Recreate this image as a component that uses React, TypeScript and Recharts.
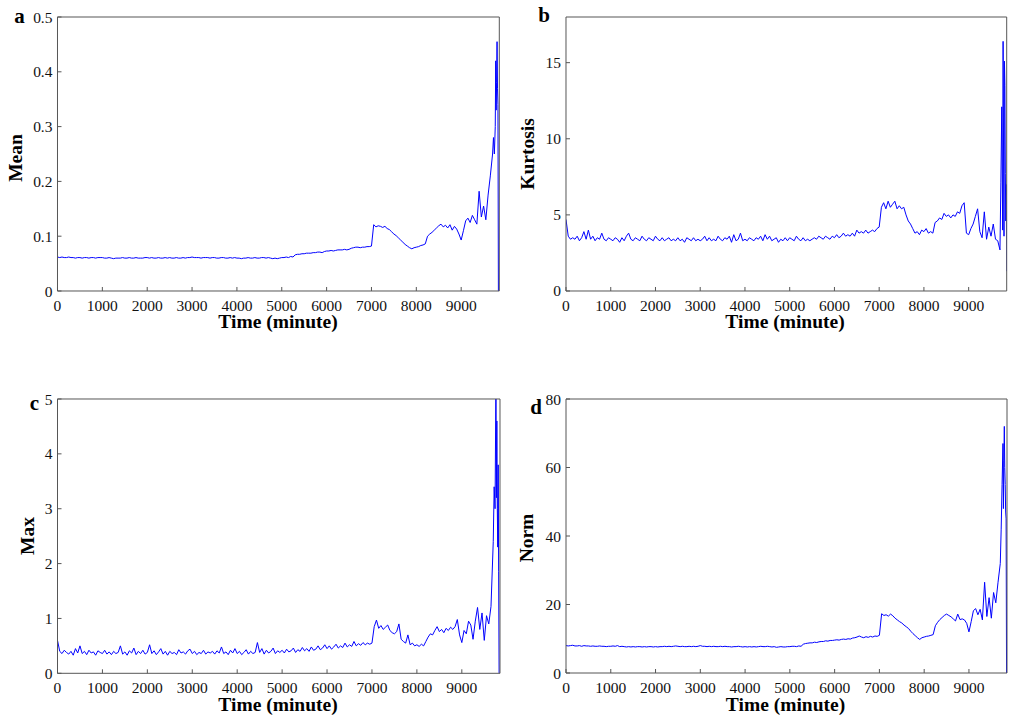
import React from 'react';
import { LineChart, Line, XAxis, YAxis } from 'recharts';

// sample times (minute)
const TIME = [
  0, 50, 100, 150, 200, 250, 300, 350, 400, 450,
  500, 550, 600, 650, 700, 750, 800, 850, 900, 950,
  1000, 1050, 1100, 1150, 1200, 1250, 1300, 1350, 1400, 1450,
  1500, 1550, 1600, 1650, 1700, 1750, 1800, 1850, 1900, 1950,
  2000, 2050, 2100, 2150, 2200, 2250, 2300, 2350, 2400, 2450,
  2500, 2550, 2600, 2650, 2700, 2750, 2800, 2850, 2900, 2950,
  3000, 3050, 3100, 3150, 3200, 3250, 3300, 3350, 3400, 3450,
  3500, 3550, 3600, 3650, 3700, 3750, 3800, 3850, 3900, 3950,
  4000, 4050, 4100, 4150, 4200, 4250, 4300, 4350, 4400, 4450,
  4500, 4550, 4600, 4650, 4700, 4750, 4800, 4850, 4900, 4950,
  5000, 5050, 5100, 5150, 5200, 5250, 5300, 5350, 5400, 5450,
  5500, 5550, 5600, 5650, 5700, 5750, 5800, 5850, 5900, 5950,
  6000, 6050, 6100, 6150, 6200, 6250, 6300, 6350, 6400, 6450,
  6500, 6550, 6600, 6650, 6700, 6750, 6800, 6850, 6900, 6950,
  7000, 7050, 7100, 7150, 7200, 7250, 7300, 7350, 7400, 7450,
  7500, 7550, 7600, 7650, 7700, 7750, 7800, 7850, 7900, 7950,
  8000, 8050, 8100, 8150, 8200, 8250, 8300, 8350, 8400, 8450,
  8500, 8550, 8600, 8650, 8700, 8750, 8800, 8850, 8900, 8950,
  9000, 9050, 9100, 9150, 9200, 9250, 9300, 9350, 9400, 9450,
  9500, 9550, 9600, 9650, 9700,
  9720, 9740, 9760, 9770, 9780, 9790, 9800, 9810, 9820, 9830, 9840, 9850,
];

const MEAN = [
  0.062, 0.061, 0.062, 0.061, 0.061, 0.062, 0.061, 0.061, 0.060, 0.061,
  0.061, 0.060, 0.061, 0.061, 0.060, 0.061, 0.061, 0.060, 0.061, 0.061,
  0.061, 0.060, 0.060, 0.061, 0.060, 0.059, 0.060, 0.060, 0.060, 0.061,
  0.060, 0.060, 0.061, 0.060, 0.060, 0.061, 0.060, 0.060, 0.060, 0.061,
  0.061, 0.060, 0.061, 0.060, 0.060, 0.061, 0.060, 0.060, 0.061, 0.060,
  0.061, 0.060, 0.060, 0.061, 0.060, 0.060, 0.061, 0.060, 0.061, 0.061,
  0.062, 0.061, 0.061, 0.061, 0.060, 0.061, 0.061, 0.061, 0.060, 0.061,
  0.061, 0.060, 0.060, 0.061, 0.061, 0.060, 0.060, 0.061, 0.060, 0.061,
  0.060, 0.060, 0.059, 0.060, 0.060, 0.061, 0.060, 0.060, 0.061, 0.060,
  0.060, 0.061, 0.061, 0.060, 0.061, 0.060, 0.059, 0.060, 0.059, 0.060,
  0.061, 0.061, 0.062, 0.061, 0.063, 0.062, 0.066, 0.067, 0.067, 0.068,
  0.068, 0.069, 0.069, 0.069, 0.070, 0.070, 0.071, 0.071, 0.070, 0.072,
  0.073, 0.073, 0.074, 0.073, 0.074, 0.075, 0.075, 0.075, 0.076, 0.075,
  0.076, 0.078, 0.079, 0.080, 0.080, 0.079, 0.080, 0.080, 0.081, 0.081,
  0.082, 0.121, 0.117, 0.119, 0.118, 0.116, 0.118, 0.114, 0.112, 0.108,
  0.104, 0.101, 0.097, 0.093, 0.089, 0.085, 0.082, 0.079, 0.077, 0.079,
  0.080, 0.081, 0.083, 0.084, 0.086, 0.100, 0.104, 0.107, 0.111, 0.115,
  0.119, 0.122, 0.117, 0.120, 0.115, 0.121, 0.111, 0.118, 0.113, 0.104,
  0.093, 0.110, 0.128, 0.133, 0.125, 0.138, 0.130, 0.122, 0.182, 0.135,
  0.155, 0.130, 0.175, 0.210, 0.250,
  0.280, 0.250, 0.300, 0.420, 0.330, 0.380, 0.455, 0.370, 0.340, 0, null, null,
];

const KURTOSIS = [
  4.7, 3.6, 3.4, 3.5, 3.4, 3.6, 3.3, 3.5, 3.9, 3.4,
  4.0, 3.4, 3.6, 3.3, 3.5, 3.4, 3.8, 3.4, 3.3, 3.5,
  3.4, 3.3, 3.5, 3.4, 3.2, 3.5, 3.3, 3.6, 3.8, 3.4,
  3.3, 3.5, 3.4, 3.3, 3.6, 3.4, 3.3, 3.5, 3.4, 3.3,
  3.6, 3.4, 3.3, 3.5, 3.3, 3.4, 3.5, 3.3, 3.4, 3.3,
  3.5, 3.3, 3.4, 3.2, 3.5, 3.4, 3.3, 3.5, 3.3, 3.4,
  3.3, 3.4, 3.6, 3.3, 3.5, 3.3, 3.4, 3.3, 3.6, 3.4,
  3.3, 3.5, 3.4, 3.6, 3.2, 3.7, 3.3, 3.4, 3.8, 3.3,
  3.4, 3.3, 3.5, 3.4, 3.3, 3.5, 3.4, 3.6, 3.3, 3.7,
  3.4, 3.6, 3.3, 3.4, 3.5, 3.2, 3.4, 3.3, 3.5, 3.3,
  3.5, 3.4, 3.3, 3.6, 3.4, 3.3, 3.5, 3.3, 3.4, 3.3,
  3.4, 3.5, 3.4, 3.6, 3.5, 3.4, 3.6, 3.5, 3.4, 3.6,
  3.5, 3.7, 3.5, 3.6, 3.8, 3.6, 3.7, 3.6, 3.8, 3.6,
  4.0, 3.8, 3.9, 3.8, 4.0, 3.8, 3.9, 4.0, 3.9, 4.1,
  4.2, 5.5, 5.8, 5.4, 5.9, 5.5, 5.7, 5.9, 5.4, 5.6,
  5.4, 5.5, 5.0, 4.6, 4.4, 4.1, 3.8, 3.9, 3.7, 4.0,
  3.9, 4.1, 3.8, 3.9, 3.8, 4.5, 4.6, 4.8, 4.7, 5.1,
  4.9, 5.0, 4.8, 5.0, 4.9, 5.2, 5.1, 5.6, 5.8, 3.8,
  3.7, 4.1, 4.4, 4.9, 5.4, 3.9, 3.5, 5.2, 3.4, 4.2,
  3.6, 4.4, 3.4, 3.3, 2.7,
  7.1, 12.1, 4.0, 16.4, 9.0, 3.6, 15.1, 13.5, 7.7, 4.6, 7.0, 1.3,
];

const MAX = [
  0.60, 0.40, 0.36, 0.42, 0.38, 0.35, 0.40, 0.33, 0.45, 0.37,
  0.50, 0.36, 0.40, 0.34, 0.42, 0.37, 0.39, 0.33, 0.41, 0.38,
  0.36, 0.42, 0.35, 0.39, 0.34, 0.40, 0.36, 0.38, 0.50, 0.35,
  0.39, 0.33, 0.41, 0.37, 0.46, 0.34, 0.40, 0.36, 0.42, 0.35,
  0.38, 0.52, 0.36, 0.41, 0.34, 0.39, 0.45, 0.35, 0.40, 0.33,
  0.40, 0.36, 0.38, 0.34, 0.43, 0.37, 0.39, 0.35, 0.41, 0.44,
  0.36, 0.40, 0.34, 0.38, 0.36, 0.42, 0.35, 0.39, 0.37, 0.40,
  0.35, 0.41, 0.37, 0.48, 0.36, 0.39, 0.34, 0.42, 0.37, 0.45,
  0.36, 0.40, 0.34, 0.38, 0.43, 0.35, 0.40, 0.36, 0.38, 0.56,
  0.38, 0.45, 0.35, 0.42, 0.37, 0.40, 0.46, 0.36, 0.41, 0.38,
  0.42, 0.37, 0.44, 0.39, 0.41, 0.46, 0.38, 0.43, 0.40, 0.47,
  0.41, 0.45, 0.40, 0.48, 0.42, 0.44, 0.50, 0.43, 0.46, 0.52,
  0.45, 0.50, 0.44, 0.48, 0.53, 0.46, 0.50, 0.47, 0.55, 0.48,
  0.52, 0.49, 0.58, 0.50, 0.54, 0.51, 0.56, 0.52, 0.55, 0.53,
  0.55, 0.85, 0.97, 0.82, 0.87, 0.80, 0.84, 0.88, 0.78, 0.74,
  0.72, 0.76, 0.90, 0.62, 0.58, 0.55, 0.70, 0.52, 0.55, 0.50,
  0.52, 0.49, 0.53, 0.50, 0.58, 0.66, 0.72, 0.70, 0.78, 0.85,
  0.76, 0.80, 0.74, 0.82, 0.78, 0.84, 0.80, 0.85, 0.98, 0.70,
  0.56, 0.78, 0.72, 0.95, 0.88, 0.62, 0.95, 1.20, 0.80, 1.10,
  0.60, 1.05, 0.90, 1.22, 2.40,
  3.4, 3.0, 5.4, 3.2, 4.6, 3.0, 2.3, 3.8, 1.85, 0, null, null,
];

const NORM = [
  8.0, 7.9, 8.0, 8.1, 7.9, 7.9, 8.0, 7.8, 8.0, 7.9,
  7.9, 7.8, 7.9, 7.8, 7.8, 7.9, 7.8, 7.8, 7.7, 7.8,
  7.8, 7.9, 7.8, 8.0, 7.7, 7.8, 7.7, 7.6, 7.7, 7.6,
  7.7, 7.6, 7.7, 7.7, 7.6, 7.7, 7.6, 7.7, 7.7, 7.6,
  7.7, 7.6, 7.7, 7.7, 7.8, 7.7, 7.8, 7.7, 7.8, 7.9,
  7.8, 7.7, 7.8, 7.7, 7.7, 7.8, 7.7, 7.8, 7.7, 7.8,
  8.0, 7.8, 7.8, 7.7, 7.8, 7.7, 7.8, 7.7, 7.7, 7.8,
  7.7, 7.8, 7.7, 7.7, 7.6, 7.7, 7.7, 7.8, 7.7, 7.6,
  7.7, 7.6, 7.7, 7.6, 7.7, 7.6, 7.7, 7.8, 7.7, 7.7,
  7.8, 7.7, 7.6, 7.7, 7.5, 7.6, 7.7, 7.6, 7.6, 7.7,
  7.7, 7.8, 7.8, 7.7, 7.9, 7.8, 8.4, 8.6, 8.7, 8.8,
  8.8, 9.0, 8.9, 9.1, 9.2, 9.2, 9.4, 9.3, 9.5, 9.5,
  9.6, 9.7, 9.6, 9.8, 9.9, 9.8, 10.0, 9.9, 10.2, 10.3,
  10.5, 10.8, 10.5, 10.3, 10.6, 10.4, 10.7, 10.5, 10.8, 10.7,
  11.0, 17.3, 16.8, 17.0, 16.6, 17.2, 16.7, 16.0, 15.5, 15.0,
  14.6, 14.0, 13.5, 13.0, 12.2, 11.5, 10.9, 10.3, 9.8, 10.3,
  10.5, 10.7, 10.8, 11.0, 11.2, 13.8, 14.8, 15.6, 16.2, 16.8,
  17.2, 16.8, 16.4, 15.8, 15.2, 17.2, 15.6, 15.8, 15.5, 14.5,
  12.0, 15.0, 18.2, 18.8, 17.0, 18.6, 15.5, 26.5, 16.5, 22.0,
  16.0, 23.5, 20.5, 26.5, 32.0,
  42, 55, 67, 48, 62, 72, 60, 55, 47, 45, 0, null,
];

const X_TICKS = [0, 1000, 2000, 3000, 4000, 5000, 6000, 7000, 8000, 9000];
const MEAN_TICKS = [0, 0.1, 0.2, 0.3, 0.4, 0.5];
const KURT_TICKS = [0, 5, 10, 15];
const MAX_TICKS = [0, 1, 2, 3, 4, 5];
const NORM_TICKS = [0, 20, 40, 60, 80];

const SERIF = '"Liberation Serif", "Times New Roman", serif';
const BOX = '#555';
const tickStyle = { fill: '#111', fontSize: 15.5, fontFamily: SERIF };

type PanelProps = {
  values: (number | null)[];
  ticks: number[];
  yMax: number;
  left: number;
  top: number;
  plotL: number;
  plotR: number;
  plotT: number;
  plotB: number;
};

function Panel({ values, ticks, yMax, left, top, plotL, plotR, plotT, plotB }: PanelProps) {
  const data = TIME.map((t, i) => ({ t, v: values[i] }));
  const width = plotR - left + 5;
  const height = plotB - top + 50;
  return (
    <div style={{ position: 'absolute', left, top }}>
      <LineChart
        width={width}
        height={height}
        data={data}
        margin={{ top: plotT - top - 1, right: 4, bottom: 10, left: 0 }}
      >
        <XAxis
          dataKey="t"
          type="number"
          domain={[0, 9850]}
          ticks={X_TICKS}
          interval={0}
          height={40}
          allowDataOverflow
          tickSize={-4}
          tickMargin={13}
          tick={tickStyle}
          axisLine={{ stroke: BOX }}
          tickLine={{ stroke: BOX }}
        />
        <XAxis
          xAxisId="top"
          orientation="top"
          dataKey="t"
          type="number"
          domain={[0, 9850]}
          ticks={X_TICKS}
          interval={0}
          height={1}
          tickSize={-4}
          tick={false}
          axisLine={{ stroke: BOX }}
          tickLine={{ stroke: BOX }}
        />
        <YAxis
          type="number"
          domain={[0, yMax]}
          ticks={ticks}
          interval={0}
          width={plotL - left}
          allowDataOverflow
          tickSize={-4}
          tickMargin={9}
          tick={tickStyle}
          axisLine={{ stroke: BOX }}
          tickLine={{ stroke: BOX }}
        />
        <YAxis
          yAxisId="r"
          orientation="right"
          type="number"
          domain={[0, yMax]}
          ticks={ticks}
          interval={0}
          width={1}
          tickSize={-4}
          tick={false}
          axisLine={{ stroke: BOX }}
          tickLine={{ stroke: BOX }}
        />
        <Line
          dataKey="v"
          type="linear"
          stroke="#0000ff"
          strokeWidth={1}
          dot={false}
          isAnimationActive={false}
        />
      </LineChart>
    </div>
  );
}

function Txt({ x, y, text, size, rotate }: { x: number; y: number; text: string; size: number; rotate?: boolean }) {
  return (
    <div
      style={{
        position: 'absolute',
        left: x,
        top: y,
        transform: `translate(-50%, -50%)${rotate ? ' rotate(-90deg)' : ''}`,
        fontFamily: SERIF,
        fontWeight: 'bold',
        fontSize: size,
        lineHeight: 0.75,
        whiteSpace: 'nowrap',
        color: '#000',
      }}
    >
      {text}
    </div>
  );
}

export default function App() {
  return (
    <div style={{ position: 'absolute', left: 0, top: 0, width: 1010, height: 718, background: '#fff', overflow: 'hidden' }}>
      <Panel values={MEAN} ticks={MEAN_TICKS} yMax={0.5} left={0} top={0} plotL={57.5} plotR={499.3} plotT={17} plotB={291} />
      <Panel values={KURTOSIS} ticks={KURT_TICKS} yMax={18} left={508} top={0} plotL={566} plotR={1006.7} plotT={17} plotB={291} />
      <Panel values={MAX} ticks={MAX_TICKS} yMax={5} left={0} top={380} plotL={57.5} plotR={500} plotT={399} plotB={673.3} />
      <Panel values={NORM} ticks={NORM_TICKS} yMax={80} left={508} top={380} plotL={566} plotR={1007} plotT={399} plotB={673} />

      <Txt x={278} y={322} text="Time (minute)" size={19.5} />
      <Txt x={785} y={322} text="Time (minute)" size={19.5} />
      <Txt x={278} y={705} text="Time (minute)" size={19.5} />
      <Txt x={785.5} y={705} text="Time (minute)" size={19.5} />

      <Txt x={15.5} y={157.5} text="Mean" size={19.5} rotate />
      <Txt x={527.5} y={154} text="Kurtosis" size={19.5} rotate />
      <Txt x={28.3} y={536} text="Max" size={19.5} rotate />
      <Txt x={526.7} y={537.5} text="Norm" size={19.5} rotate />

      <Txt x={19.5} y={17} text="a" size={21} />
      <Txt x={544} y={16} text="b" size={21} />
      <Txt x={34.5} y={404} text="c" size={21} />
      <Txt x={536} y={408} text="d" size={21} />
    </div>
  );
}
